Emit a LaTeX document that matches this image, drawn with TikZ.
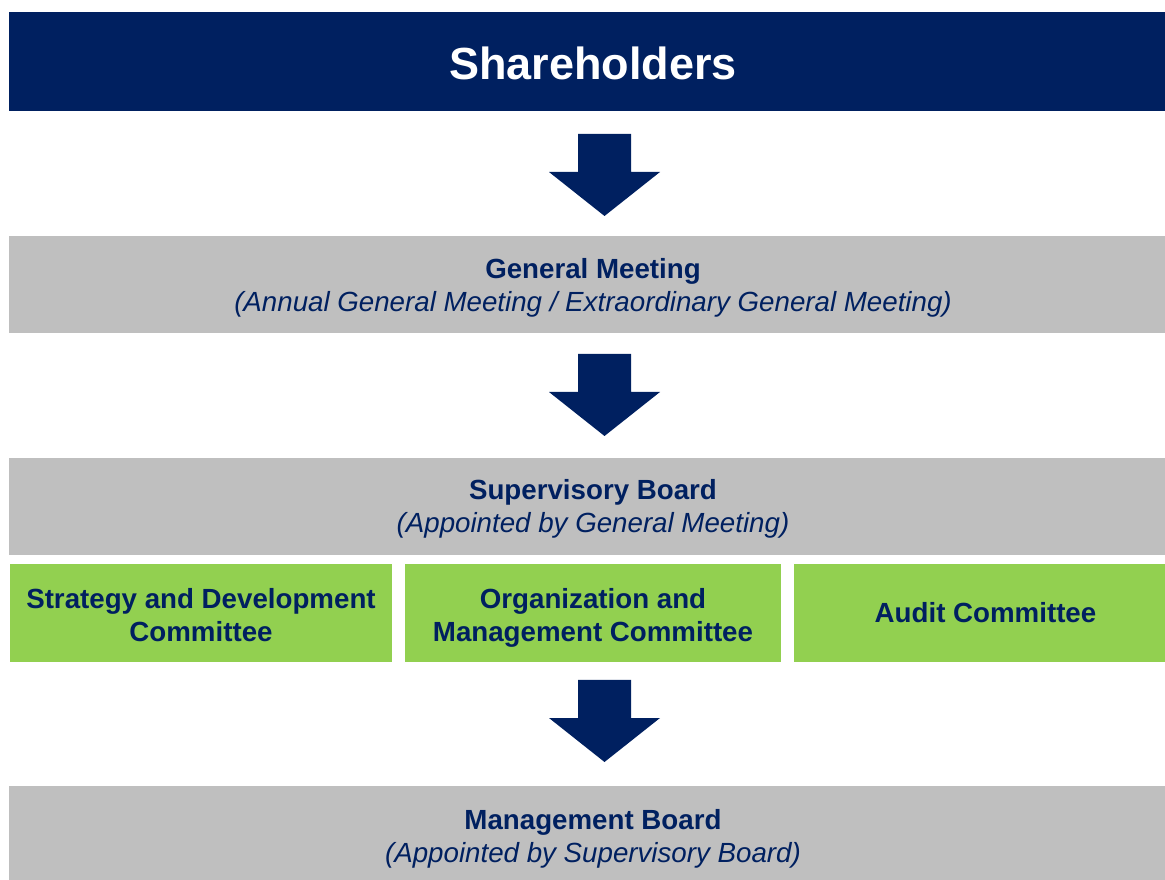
\documentclass[tikz,border=0pt]{standalone}
\usepackage{fontspec}
\setmainfont{Liberation Sans}
\definecolor{navy}{HTML}{002060}
\definecolor{boxgray}{HTML}{BFBFBF}
\definecolor{boxgreen}{HTML}{92D050}
\newcommand{\topstrut}[1]{\rule{0pt}{#1}}
\begin{document}
\begin{tikzpicture}[x=1pt,y=1pt,
  base/.style={rectangle,inner sep=0pt,align=center,text=navy,
    font=\fontsize{27.7}{33}\selectfont},
  graybox/.style={base,fill=boxgray,minimum width=1168pt},
  greenbox/.style={base,fill=boxgreen},
  titlebox/.style={rectangle,inner sep=0pt,fill=navy,text=white,
    minimum width=1168pt,minimum height=99pt,
    font=\fontsize{45}{54}\selectfont\bfseries},
  blockarrow/.pic={\fill[navy] (-26.5,0) -- (26.5,0) -- (26.5,-38) -- (55.5,-38)
     -- (0,-82) -- (-55.5,-38) -- (-26.5,-38) -- cycle;}]
\useasboundingbox (0,0) rectangle (1165,879);
\clip (0,0) rectangle (1165,879);
\node[titlebox] (sh) at (593,817.5) {\topstrut{36pt}Shareholders};
\node[graybox,minimum height=97pt] (gm) at (593,594.5)
  {\topstrut{26pt}\textbf{General Meeting}\\\textit{(Annual General Meeting / Extraordinary General Meeting)}};
\node[graybox,minimum height=97pt] (sb) at (593,372.5)
  {\topstrut{25pt}\textbf{Supervisory Board}\\\textit{(Appointed by General Meeting)}};
\node[greenbox,minimum width=382pt,minimum height=98pt] (c1) at (201,266)
  {\topstrut{24pt}\textbf{Strategy and Development}\\\textbf{Committee}};
\node[greenbox,minimum width=376pt,minimum height=98pt] (c2) at (593,266)
  {\topstrut{29pt}\textbf{Organization and}\\\textbf{Management Committee}};
\node[greenbox,minimum width=383pt,minimum height=98pt] (c3) at (985.5,266)
  {\textbf{Audit Committee}};
\node[graybox,minimum height=100pt] (mb) at (593,43)
  {\topstrut{26pt}\textbf{Management Board}\\\textit{(Appointed by Supervisory Board)}};
\pic at (604.5,745) {blockarrow};
\pic at (604.5,525) {blockarrow};
\pic at (604.5,199) {blockarrow};
\end{tikzpicture}
\end{document}
